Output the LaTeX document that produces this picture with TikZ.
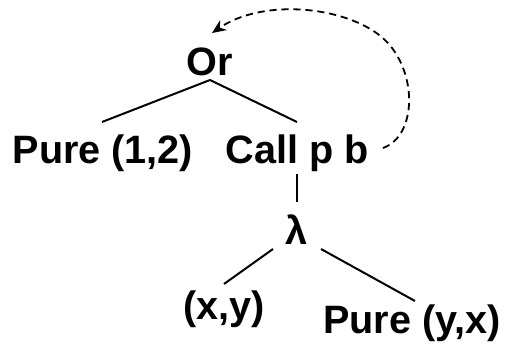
\documentclass[tikz,border=0pt]{standalone}
\usepackage{fontspec}
\setmainfont{Liberation Sans}
\usetikzlibrary{calc,arrows.meta}
\tikzset{
  lbl/.style={anchor=base, inner sep=0pt, font=\fontsize{19.8}{24}\selectfont\bfseries},
  edge/.style={line width=1pt},
  back/.style={line width=0.9pt, dash pattern=on 3.6pt off 2.4pt, -{Stealth[length=7pt,width=6pt]}}
}
\begin{document}
\begin{tikzpicture}[x=0.5pt,y=-0.5pt]
\useasboundingbox (0,0) rectangle (505,344);
% tree labels, placed on their baselines
\node[lbl] (or)     at (210,75)  {Or};
\node[lbl] (pure12) at (103,163) {Pure (1,2)};
\node[lbl] (call)   at (297,163) {Call p b};
\node[lbl] (lam)    at (297,244) {λ};
\node[lbl] (xy)     at (224,319) {(x,y)};
\node[lbl] (pureyx) at (412,333) {Pure (y,x)};
% tree edges
\draw[edge] ($(or.base)+(0,5)$) -- ($(pure12.base)+(-1,-41)$);
\draw[edge] ($(or.base)+(0,5)$) -- ($(call.base)+(0,-41)$);
\draw[edge] ($(call.base)+(0,11)$) -- ($(lam.base)+(0,-42)$);
\draw[edge] ($(lam.base)+(-24,5)$) -- ($(xy.base)+(0,-35)$);
\draw[edge] ($(lam.base)+(24,5)$) -- ($(pureyx.base)+(3,-32)$);
% recursive call back to the root
\coordinate (loop) at (375,32);
\draw[back] ($(call.base)+(86,-15)$) .. controls (420,135) and (418,60) .. (loop)
  .. controls (335,5) and (260,0) .. ($(or.base)+(2,-42)$);
\end{tikzpicture}
\end{document}
